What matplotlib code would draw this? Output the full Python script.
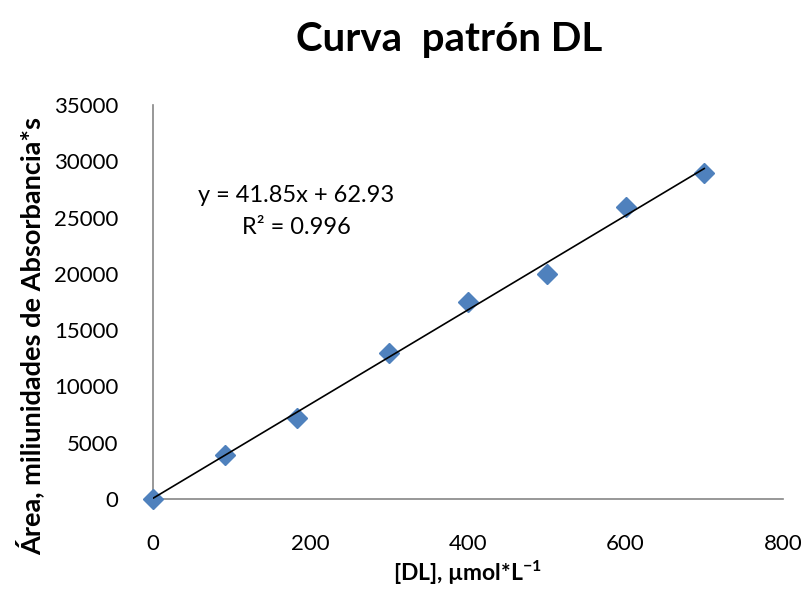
import matplotlib
matplotlib.use("Agg")
import matplotlib.pyplot as plt
import numpy as np

# Data
conc = [0, 92, 183, 300, 400, 500, 600, 700]
area = [0, 3900, 7200, 13000, 17500, 20000, 25900, 29000]
slope = 41.85
intercept = 62.93
r2 = 0.996
xticks = [0, 200, 400, 600, 800]
yticks = [0, 5000, 10000, 15000, 20000, 25000, 30000, 35000]

plt.rcParams['font.family'] = ['Lato', 'DejaVu Sans']

fig = plt.figure(figsize=(8.02, 6.04), dpi=100)
ax = fig.add_axes([153/802, 1-499/604, (783-153)/802, (499-105)/604])

ax.plot(conc, area, linestyle='none', marker='D', markersize=10.5,
        color='#4F81BD', markeredgecolor='#4F81BD', zorder=3, clip_on=False)
xl = np.array([conc[0], conc[-1]])
ax.plot(xl, slope*xl + intercept, color='black', linewidth=1.2, zorder=4)

ax.set_xlim(0, 800)
ax.set_ylim(0, 35000)
ax.set_xticks(xticks)
ax.set_yticks(yticks)
ax.tick_params(length=0, labelsize=16, pad=25)
ax.tick_params(axis='x', pad=25)
for s in ['top', 'right']:
    ax.spines[s].set_visible(False)
for s in ['left', 'bottom']:
    ax.spines[s].set_color('#868686')
    ax.spines[s].set_linewidth(1.2)

ax.text(296/802, 1-196/604, f"y = {slope}x + {intercept}", transform=fig.transFigure,
        ha='center', va='center', fontsize=17)
ax.text(296/802, 1-228/604, f"R² = {r2}", transform=fig.transFigure,
        ha='center', va='center', fontsize=17)

fig.text(449/802, 1-40/604, "Curva  patrón DL", ha='center', va='center',
         fontsize=29, fontweight='bold')
fig.text(467/802, 1-573/604, "[DL], µmol*L$\\mathregular{^{-1}}$", ha='center', va='center',
         fontsize=16.5, fontweight='bold')
fig.text(30/802, 1-336/604, "Área, miliunidades de Absorbancia*s", ha='center', va='center',
         rotation=90, fontsize=19.5, fontweight='bold')

fig.savefig("out.png", dpi=100)
